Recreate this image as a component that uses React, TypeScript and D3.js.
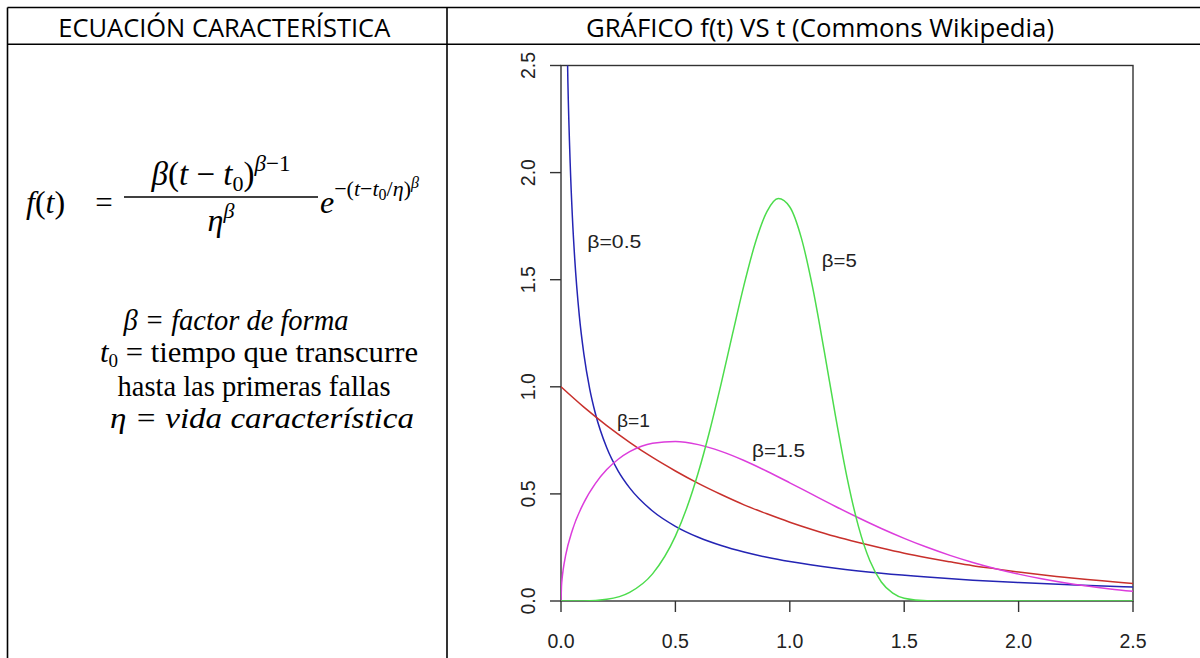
import React from "react";
import * as d3 from "d3";

// ---- data (t, f(t)) ----
const beta05: [number, number][] = [
  [0.02, 3.07], [0.03, 2.428], [0.04, 2.047], [0.05, 1.788], [0.06, 1.598], [0.08, 1.332],
  [0.1, 1.1525], [0.125, 0.993], [0.15, 0.8765], [0.2, 0.715], [0.25, 0.6065], [0.3, 0.528],
  [0.4, 0.42], [0.5, 0.3487], [0.6, 0.2975], [0.7, 0.2589], [0.8, 0.2286], [0.9, 0.2041],
  [1.0, 0.1839], [1.2, 0.1526], [1.4, 0.1294], [1.6, 0.1116], [1.8, 0.0974], [2.0, 0.086],
  [2.25, 0.0744], [2.5, 0.0651],
];
const beta1: [number, number][] = [
  [0, 1], [0.1, 0.905], [0.2, 0.819], [0.3, 0.741], [0.4, 0.67], [0.5, 0.607], [0.6, 0.549],
  [0.7, 0.497], [0.8, 0.449], [0.9, 0.407], [1.0, 0.368], [1.1, 0.333], [1.2, 0.301],
  [1.3, 0.273], [1.4, 0.247], [1.5, 0.223], [1.6, 0.202], [1.7, 0.183], [1.8, 0.165],
  [1.9, 0.15], [2.0, 0.135], [2.1, 0.122], [2.2, 0.111], [2.3, 0.1], [2.4, 0.091], [2.5, 0.082],
];
const beta15: [number, number][] = [
  [0, 0], [0.002, 0.067], [0.005, 0.106], [0.01, 0.1498], [0.02, 0.2115], [0.05, 0.3317],
  [0.1, 0.4596], [0.15, 0.5482], [0.2, 0.6134], [0.25, 0.6619], [0.3, 0.6971], [0.4, 0.7367],
  [0.5, 0.7448], [0.6, 0.73], [0.7, 0.6987], [0.8, 0.6561], [0.9, 0.6059], [1.0, 0.5518],
  [1.1, 0.4963], [1.2, 0.4413], [1.3, 0.3886], [1.4, 0.3386], [1.5, 0.2926], [1.6, 0.2506],
  [1.7, 0.2131], [1.8, 0.1799], [1.9, 0.1507], [2.0, 0.1254], [2.1, 0.1037], [2.2, 0.0852],
  [2.3, 0.0696], [2.4, 0.0565], [2.5, 0.0455],
];
const beta5: [number, number][] = [
  [0, 0], [0.1, 0.0005], [0.2, 0.008], [0.3, 0.0404], [0.4, 0.1267], [0.5, 0.3029],
  [0.55, 0.435], [0.6, 0.5995], [0.65, 0.7948], [0.7, 1.0148], [0.75, 1.2479], [0.8, 1.4758],
  [0.85, 1.6748], [0.9, 1.8177], [0.95, 1.8787], [1.0, 1.8394], [1.05, 1.6963], [1.1, 1.4627],
  [1.15, 1.1701], [1.2, 0.8616], [1.25, 0.5774], [1.3, 0.3485], [1.35, 0.1875], [1.4, 0.0887],
  [1.45, 0.0365], [1.5, 0.0127], [1.6, 0.0009], [1.7, 0], [2.5, 0],
];

const xTicks = [0, 0.5, 1.0, 1.5, 2.0, 2.5];
const yTicks = [0, 0.5, 1.0, 1.5, 2.0, 2.5];

const curveLabels = [
  { text: "β=0.5", t: 0.115, f: 1.65, len: 54 },
  { text: "β=1", t: 0.245, f: 0.81, len: 33 },
  { text: "β=1.5", t: 0.835, f: 0.67, len: 53 },
  { text: "β=5", t: 1.14, f: 1.56, len: 35 },
];

const W = 1200;
const H = 658;

export default function App() {
  const x = d3.scaleLinear().domain([0, 2.5]).range([561, 1133]);
  const y = d3.scaleLinear().domain([0, 2.5]).range([601, 65.5]);
  const line = d3
    .line<[number, number]>()
    .x((d) => x(d[0]))
    .y((d) => y(d[1]))
    .curve(d3.curveMonotoneX);

  const series = [
    { data: beta05, color: "#2424b4" },
    { data: beta1, color: "#c8302c" },
    { data: beta15, color: "#dc3ddc" },
    { data: beta5, color: "#4cdc4c" },
  ];

  const serif = "'Liberation Serif', 'DejaVu Serif', serif";
  const sans = "'Liberation Sans', Arial, sans-serif";
  const hdr = "'Open Sans', 'Noto Sans', sans-serif";
  const colL = 7.5;
  const colD = 447;
  const cL = (colL + colD) / 2;

  return (
    <svg
      width={W}
      height={H}
      style={{ position: "absolute", left: 0, top: 0, background: "#fff" }}
    >
      <rect x={0} y={0} width={W} height={H} fill="#fff" />
      {/* table */}
      <g stroke="#000" strokeWidth={1.6}>
        <line x1={colL} x2={W} y1={7.5} y2={7.5} />
        <line x1={colL} x2={W} y1={44.3} y2={44.3} />
        <line x1={colL} x2={colL} y1={7.5} y2={H} />
        <line x1={colD} x2={colD} y1={7.5} y2={H} />
      </g>
      <text x={cL - 3} y={37} fontFamily={hdr} fontSize={25.5} textAnchor="middle" textLength={332} lengthAdjust="spacingAndGlyphs" fill="#000">
        ECUACIÓN CARACTERÍSTICA
      </text>
      <text x={820} y={37} fontFamily={hdr} fontSize={25.5} textAnchor="middle" textLength={468} lengthAdjust="spacingAndGlyphs" fill="#000">
        GRÁFICO f(t) VS t (Commons Wikipedia)
      </text>

      {/* formula */}
      <g fontFamily={serif} fill="#000">
        <text x={26} y={213} fontSize={32}>
          <tspan fontStyle="italic">f</tspan>(<tspan fontStyle="italic">t</tspan>)
        </text>
        <text x={104} y={213} fontSize={31} textAnchor="middle">=</text>
        <text x={221} y={185} fontSize={33} textAnchor="middle">
          <tspan fontStyle="italic">β</tspan>(<tspan fontStyle="italic">t</tspan> − <tspan fontStyle="italic">t</tspan>
          <tspan fontSize={22} dy={6}>0</tspan>
          <tspan dy={-6}>)</tspan>
          <tspan fontSize={23} dy={-14} fontStyle="italic">β</tspan>
          <tspan fontSize={23}>−1</tspan>
        </text>
        <line x1={124} x2={318} y1={197} y2={197} stroke="#000" strokeWidth={1.6} />
        <text x={221} y={231} fontSize={32} textAnchor="middle">
          <tspan fontStyle="italic">η</tspan>
          <tspan fontSize={22} dy={-13} fontStyle="italic">β</tspan>
        </text>
        <text x={320} y={213} fontSize={32}>
          <tspan fontStyle="italic">e</tspan>
          <tspan fontSize={22} dy={-17}>−(</tspan>
          <tspan fontSize={22} fontStyle="italic">t</tspan>
          <tspan fontSize={22}>−</tspan>
          <tspan fontSize={22} fontStyle="italic">t</tspan>
          <tspan fontSize={16} dy={4}>0</tspan>
          <tspan fontSize={22} dy={-4}>/</tspan>
          <tspan fontSize={22} fontStyle="italic">η</tspan>
          <tspan fontSize={22}>)</tspan>
          <tspan fontSize={16} dy={-8} fontStyle="italic">β</tspan>
        </text>

        <text x={236} y={330} fontSize={28.5} fontStyle="italic" textAnchor="middle">
          β = factor de forma
        </text>
        <text x={259} y={362} fontSize={29} textAnchor="middle" textLength={318} lengthAdjust="spacingAndGlyphs">
          <tspan fontStyle="italic">t</tspan>
          <tspan fontSize={18} dy={5}>0</tspan>
          <tspan dy={-5}> = tiempo que transcurre</tspan>
        </text>
        <text x={254} y={396} fontSize={28.5} textAnchor="middle">
          hasta las primeras fallas
        </text>
        <text x={262} y={428} fontSize={30} fontStyle="italic" textAnchor="middle" textLength={304} lengthAdjust="spacingAndGlyphs">
          η = vida característica
        </text>
      </g>

      {/* plot */}
      <defs>
        <clipPath id="plotclip">
          <rect x={x(0)} y={y(2.5)} width={x(2.5) - x(0)} height={y(0) - y(2.5)} />
        </clipPath>
      </defs>
      <g stroke="#333" strokeWidth={1.4} fill="none">
        <rect x={x(0)} y={y(2.5)} width={x(2.5) - x(0)} height={y(0) - y(2.5)} />
        {xTicks.map((t) => (
          <line key={"xt" + t} x1={x(t)} x2={x(t)} y1={y(0)} y2={y(0) + 11} />
        ))}
        {yTicks.map((t) => (
          <line key={"yt" + t} x1={x(0) - 11} x2={x(0)} y1={y(t)} y2={y(t)} />
        ))}
      </g>
      <g fontFamily={sans} fontSize={19.5} fill="#222">
        {xTicks.map((t) => (
          <text key={"xl" + t} x={x(t)} y={648} textAnchor="middle">
            {t.toFixed(1)}
          </text>
        ))}
        {yTicks.map((t) => (
          <text
            key={"yl" + t}
            transform={`translate(535,${y(t)}) rotate(-90)`}
            textAnchor="middle"
          >
            {t.toFixed(1)}
          </text>
        ))}
      </g>
      <g clipPath="url(#plotclip)" fill="none" strokeWidth={1.5}>
        {series.map((s, i) => (
          <path key={i} d={line(s.data) || ""} stroke={s.color} />
        ))}
      </g>
      <g fontFamily={sans} fontSize={18} fill="#222">
        {curveLabels.map((l) => (
          <text
            key={l.text}
            x={x(l.t)}
            y={y(l.f)}
            textLength={l.len}
            lengthAdjust="spacingAndGlyphs"
          >
            {l.text}
          </text>
        ))}
      </g>
    </svg>
  );
}
